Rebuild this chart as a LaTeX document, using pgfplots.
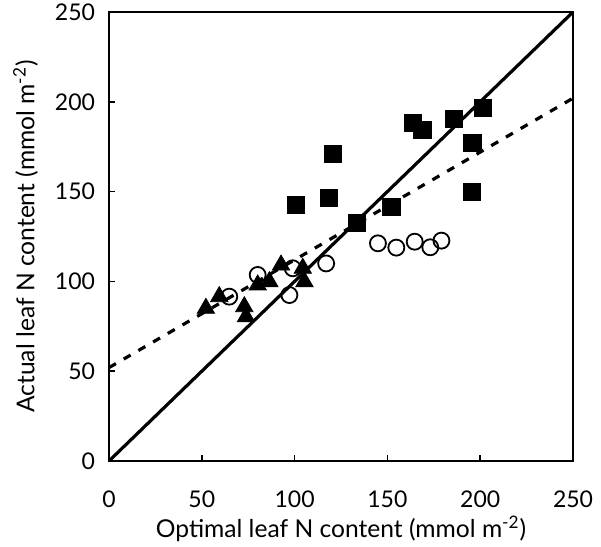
\documentclass[border=0pt]{standalone}
\usepackage{fontspec}
\setmainfont{Lato}
\usepackage{pgfplots}
\pgfplotsset{compat=1.18}
\begin{document}
\begin{tikzpicture}
\begin{axis}[
  scale only axis,
  width=232pt, height=224.5pt,
  xmin=0, xmax=250, ymin=0, ymax=250,
  xtick={0,50,100,150,200,250},
  ytick={0,50,100,150,200,250},
  xtick pos=left, ytick pos=left,
  tick align=inside,
  major tick length=3pt,
  axis line style={line width=0.8pt},
  every tick/.style={line width=0.8pt, black},
  /pgf/number format/assume math mode=true,
  tick label style={font=\fontsize{11.5}{13}\selectfont, inner sep=1pt, outer sep=0pt},
  xticklabel style={yshift=-14pt},
  yticklabel style={xshift=-6pt},
  label style={font=\fontsize{12.3}{14}\selectfont, inner sep=1pt},
  xlabel={Optimal leaf N content (mmol m\textsuperscript{-2})},
  ylabel={Actual leaf N content (mmol m\textsuperscript{-2})},
  xlabel style={at={(axis description cs:0.5,-0.151)}, anchor=center},
  ylabel style={at={(axis description cs:-0.18,0.5)}, anchor=center},
  clip=false,
]
\path (rel axis cs:-0.2349,-0.1893) rectangle (rel axis cs:1.0603,1.0267);
\addplot[black, line width=1.6pt, dash pattern=on 4pt off 4.5pt, forget plot] coordinates {(0,52) (250,202)};
\addplot[black, line width=1.6pt, forget plot] coordinates {(0,0) (250,250)};
% squares
\addplot[only marks, mark=square*, mark size=4.3pt, black] coordinates {
(100.8,142.5) (120.6,171) (118.3,146.3) (133.5,132.7) (152.1,141.6)
(163.8,188.4) (168.8,184.3) (185.9,190.3) (201.6,196.4) (195.8,176.9) (195.6,150)
};
% triangles
\addplot[only marks, mark=triangle*, mark size=5pt, black] coordinates {
(52.2,85) (59.4,91.5) (72.9,85.9) (73.8,80.3) (80.1,98) (86.4,99.8)
(92.7,109.1) (104.4,107.3) (105.3,99.8)
};
% circles
\addplot[only marks, mark=o, mark size=4pt, black, line width=0.9pt, mark options={fill=white}] coordinates {
(64.8,91.5) (80.1,103.6) (97.2,92.4) (99,107.3) (117,110)
(144.9,121.2) (154.8,118.8) (164.7,122.1) (173.1,119) (179.1,122.7)
};
\end{axis}
\end{tikzpicture}
\end{document}
